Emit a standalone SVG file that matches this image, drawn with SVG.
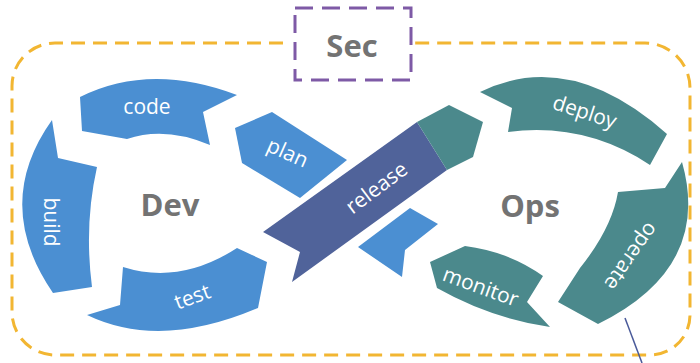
<svg xmlns="http://www.w3.org/2000/svg" width="700" height="363" viewBox="0 0 700 363">
<style>
.lb{fill:#4b8fd2}
.tl{fill:#4b898c}
.rb{fill:#50639a}
.lbl{font-family:"Open Sans","Liberation Sans",sans-serif;font-size:21px;fill:#ffffff;text-anchor:middle;dominant-baseline:central}
.big{font-family:"Open Sans","Liberation Sans",sans-serif;font-size:31px;font-weight:bold;fill:#737373;text-anchor:middle}
</style>
<rect x="0" y="0" width="700" height="363" fill="#ffffff"/>
<g id="frame">
<path d="M283,43 L55,43 A43,43 0 0 0 12,86 L12,312 A43,43 0 0 0 55,355 L650,355 A40,40 0 0 0 690,315 L690,88 A45,45 0 0 0 645,43 L413,43" fill="none" stroke="#f2b632" stroke-width="3" stroke-dasharray="14 8"/>
</g>
<g id="sec">
<rect x="295" y="8" width="116" height="72" fill="none" stroke="#7e5aa6" stroke-width="3" stroke-dasharray="18 9"/>
<text class="big" x="352" y="57">Sec</text>
</g>
<g id="dev">
<text class="big" x="170" y="216">Dev</text>
</g>
<g id="ops">
<text class="big" x="530" y="217">Ops</text>
</g>
<g id="code">
<path class="lb" d="M80,97 Q150,62 237,95 L203,112 L210,145 Q165,126 127,139 L82,131 Z"/>
<text class="lbl" x="147" y="106">code</text>
</g>
<g id="plan">
<path class="lb" d="M272,112 L235,128 L242,163 L300,198 L347,160 Z"/>
<text class="lbl" x="288" y="152" transform="rotate(24 288 152)">plan</text>
</g>
<g id="build">
<path class="lb" d="M52,120 L58,158 L97,167 Q84,225 92,287 L53,293 Q-8,204 52,120 Z"/>
<text class="lbl" x="52" y="222" transform="rotate(90 52 222)">build</text>
</g>
<g id="test">
<path class="lb" d="M123,267 L120,305 L87,315 Q160,350 258,308 L267,262 L237,248 Q180,285 123,267 Z"/>
<text class="lbl" x="192" y="296" transform="rotate(-20 192 296)">test</text>
</g>
<g id="return">
<path class="lb" d="M358,247 L410,208 L438,224 L405,250 L402,277 Z"/>
</g>
<g id="release">
<path class="rb" d="M263,232 L417,122 L447,170 L292,282 L300,252 Z"/>
<path class="tl" d="M417,122 L449,105 L483,122 L473,157 L447,170 Z"/>
<text class="lbl" x="376" y="187" transform="rotate(-37 376 187)">release</text>
</g>
<g id="deploy">
<path class="tl" d="M480,92 Q570,48 667,134 L650,165 Q585,122 508,132 L512,108 Z"/>
<text class="lbl" x="585" y="111" transform="rotate(18 585 111)">deploy</text>
</g>
<g id="operate">
<path class="tl" d="M682,162 Q712,268 598,324 L558,302 L580,268 Q612,228 618,192 L665,188 Z"/>
<text class="lbl" x="632" y="257" transform="rotate(125 632 257)">operate</text>
</g>
<g id="monitor">
<path class="tl" d="M430,262 L465,246 Q510,252 543,276 L527,302 L550,327 Q490,318 437,288 Z"/>
<text class="lbl" x="481" y="286" transform="rotate(20 481 286)">monitor</text>
</g>
<g id="connectors">
<line x1="625" y1="318" x2="642" y2="363" stroke="#4a5a9a" stroke-width="1.5"/>
</g>
</svg>
